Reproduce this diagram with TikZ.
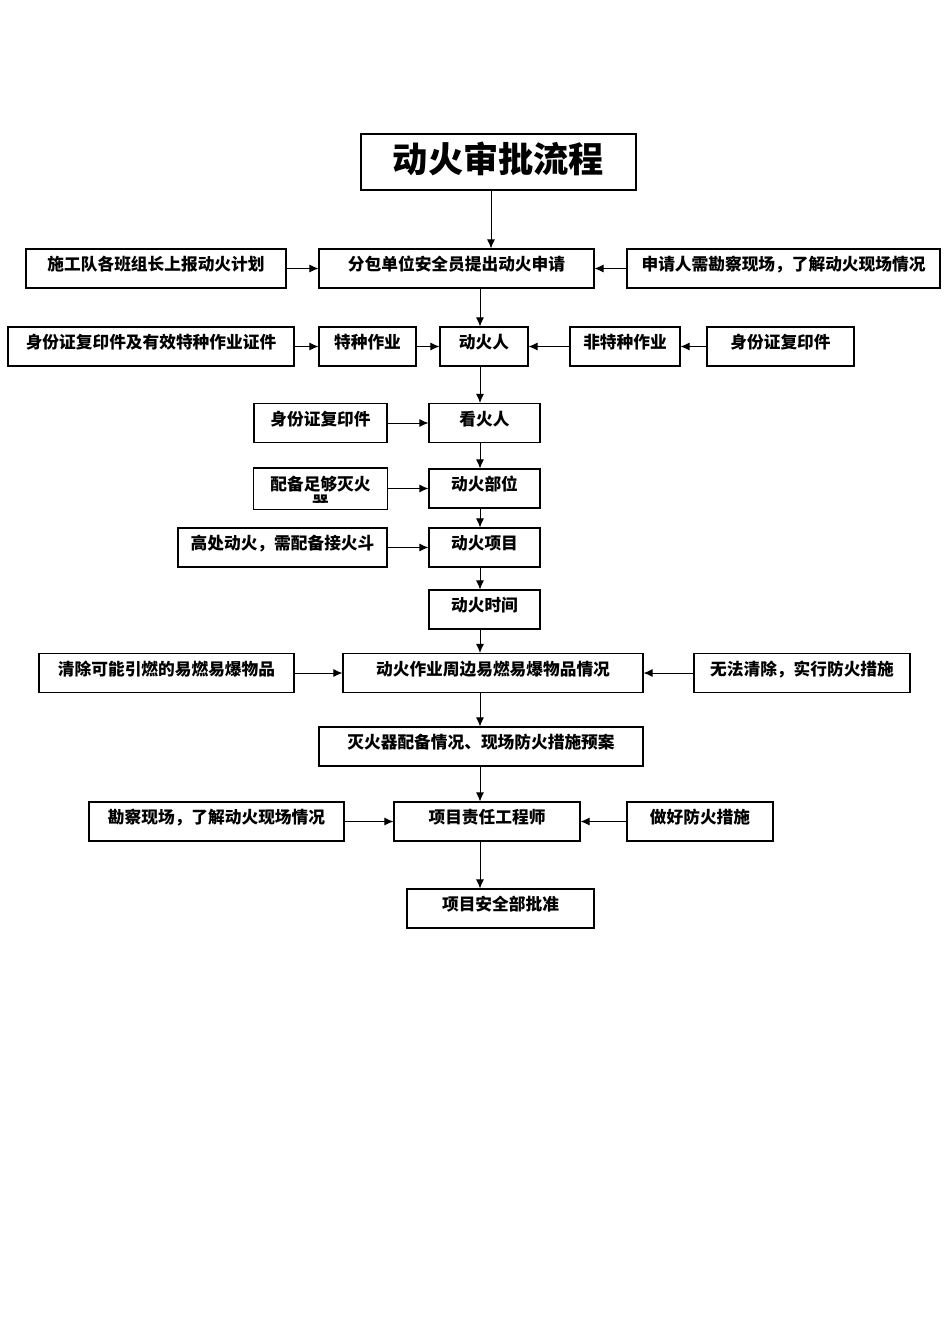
\documentclass[tikz,border=0pt]{standalone}
\usepackage{fontspec}
\usepackage{tikz}
\usetikzlibrary{arrows.meta,positioning}
\newfontfamily\cjk{Noto Sans CJK SC}

\begin{document}
\begin{tikzpicture}[x=0.5pt,y=-0.5pt,
box/.style={draw,line width=0.55pt,inner sep=0pt,minimum height=19.5pt,
text height=10.95pt,text depth=8.55pt,align=center,
font=\cjk\bfseries\fontsize{8.35}{9}\selectfont},
boxw/.style={minimum width=#1*0.5pt},
arr/.style={-{Latex[length=4.5pt,width=4pt]},line width=0.5pt}
]
\useasboundingbox[fill=white] (0,0) rectangle (950,1344);
\coordinate (tspine) at (491,0);
\coordinate (spine) at (480,0);
\node[box,boxw=275,minimum height=28pt,text height=19.2pt,text depth=8.8pt,
font=\cjk\bfseries\fontsize{17.6}{20}\selectfont] (title) at (498.5,162) {动火审批流程};
\node[box,boxw=275] (apply) at (456.5,268.5) {分包单位安全员提出动火申请};
\node[box,boxw=260] (plan) at (156,268.5) {施工队各班组长上报动火计划};
\node[box,boxw=313] (need) at (783.5,268.5) {申请人需勘察现场，了解动火现场情况};
\node[box,boxw=286] (idcert) at (151,346.5) {身份证复印件及有效特种作业证件};
\node[box,boxw=97] (special) at (367.5,346.5) {特种作业};
\node[box,boxw=88] (fireman) at (484,346.5) {动火人};
\node[box,boxw=110] (nonspec) at (625,346.5) {非特种作业};
\node[box,boxw=147] (idcopy) at (780.5,346.5) {身份证复印件};
\node[box,boxw=133] (idwatch) at (320.5,423) {身份证复印件};
\node[box,boxw=111] (watcher) at (484.5,423) {看火人};
\begin{scope}
\clip (250,465) rectangle (392,502);
\node[box,draw=none,boxw=133,text height=20pt,text depth=0pt] (extg) at (320.5,488.5) {配备足够灭火\\器};
\end{scope}
\draw[line width=0.55pt] (extg.north west) rectangle (extg.south east);
\node[box,boxw=111] (part) at (484.5,488.5) {动火部位};
\node[box,boxw=209] (hopper) at (282.5,547.5) {高处动火，需配备接火斗};
\node[box,boxw=111] (item) at (484.5,547.5) {动火项目};
\node[box,boxw=111] (time) at (484.5,609.5) {动火时间};
\node[box,boxw=255] (clear) at (166.5,673) {清除可能引燃的易燃易爆物品};
\node[box,boxw=300] (flam) at (493,673) {动火作业周边易燃易爆物品情况};
\node[box,boxw=216] (cannot) at (802,673) {无法清除，实行防火措施};
\node[box,boxw=324] (prep) at (481,746.5) {灭火器配备情况、现场防火措施预案};
\node[box,boxw=255] (survey) at (216.5,821.5) {勘察现场，了解动火现场情况};
\node[box,boxw=186] (engineer) at (487,821.5) {项目责任工程师};
\node[box,boxw=146] (protect) at (700,821.5) {做好防火措施};
\node[box,boxw=187] (approve) at (500.5,908.5) {项目安全部批准};
\draw[arr] (title.south -| tspine) -- (apply.north -| tspine);
\draw[arr] (plan) -- (apply);
\draw[arr] (need) -- (apply);
\draw[arr] (apply.south -| spine) -- (fireman.north -| spine);
\draw[arr] (idcert) -- (special);
\draw[arr] (special) -- (fireman);
\draw[arr] (nonspec) -- (fireman);
\draw[arr] (idcopy) -- (nonspec);
\draw[arr] (fireman.south -| spine) -- (watcher.north -| spine);
\draw[arr] (idwatch) -- (watcher);
\draw[arr] (watcher.south -| spine) -- (part.north -| spine);
\draw[arr] (extg) -- (part);
\draw[arr] (part.south -| spine) -- (item.north -| spine);
\draw[arr] (hopper) -- (item);
\draw[arr] (item.south -| spine) -- (time.north -| spine);
\draw[arr] (time.south -| spine) -- (flam.north -| spine);
\draw[arr] (clear) -- (flam);
\draw[arr] (cannot) -- (flam);
\draw[arr] (flam.south -| spine) -- (prep.north -| spine);
\draw[arr] (prep.south -| spine) -- (engineer.north -| spine);
\draw[arr] (survey) -- (engineer);
\draw[arr] (protect) -- (engineer);
\draw[arr] (engineer.south -| spine) -- (approve.north -| spine);
\end{tikzpicture}
\end{document}
